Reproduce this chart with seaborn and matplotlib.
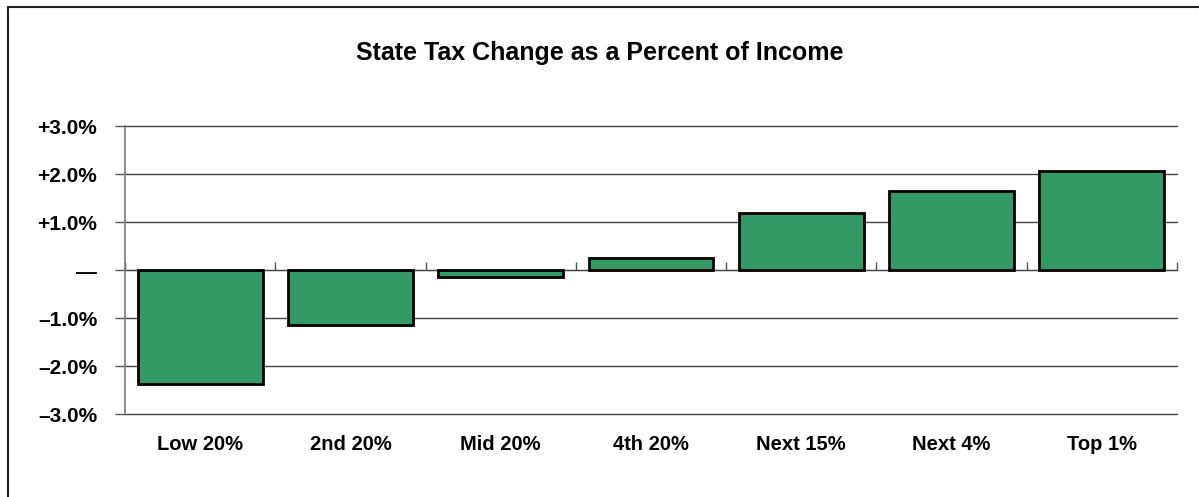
import matplotlib
matplotlib.use("Agg")
import matplotlib.pyplot as plt
import seaborn as sns
import pandas as pd
from matplotlib.lines import Line2D

# data
groups = ['Low 20%', '2nd 20%', 'Mid 20%', '4th 20%', 'Next 15%', 'Next 4%', 'Top 1%']
tax_change = [-2.37, -1.15, -0.15, 0.25, 1.19, 1.65, 2.07]
y_ticks = [-3, -2, -1, 0, 1, 2, 3]
y_labels = ['\u20133.0%', '\u20132.0%', '\u20131.0%', '\u2014', '+1.0%', '+2.0%', '+3.0%']

df = pd.DataFrame({'group': groups, 'change': tax_change})

sns.set_style('white')
plt.rcParams['font.family'] = ['Liberation Sans', 'DejaVu Sans']
plt.rcParams['font.weight'] = 'bold'
plt.rcParams['text.color'] = 'black'
plt.rcParams['xtick.labelcolor'] = 'black'
plt.rcParams['ytick.labelcolor'] = 'black'

fig = plt.figure(figsize=(11.99, 4.97), dpi=100)
ax = fig.add_axes([125 / 1199, 1 - 414 / 497, (1177 - 125) / 1199, (414 - 126) / 497])

sns.barplot(data=df, x='group', y='change', color='#339966', width=0.83,
            edgecolor='black', linewidth=2, saturation=1, ax=ax, zorder=3)

ax.set_ylim(-3, 3)
ax.set_xlim(-0.5, len(groups) - 0.5)
ax.set_yticks(y_ticks)
ax.set_yticklabels(y_labels, fontsize=15, fontweight='bold')
ax.yaxis.grid(True, color='#444444', linewidth=1)
for gl in ax.get_ygridlines():
    gl.set_clip_on(False)
ax.set_axisbelow(True)
ax.tick_params(axis='y', length=7, width=1, color='#555555', direction='out', pad=13, left=True)
ax.tick_params(axis='x', length=0, pad=15, labelsize=14.5)
for lbl in ax.get_xticklabels():
    lbl.set_fontweight('bold')
ax.set_xlabel('')
ax.set_ylabel('')

for s in ['top', 'right', 'bottom']:
    ax.spines[s].set_visible(False)
ax.spines['left'].set_color('#777777')
ax.spines['left'].set_linewidth(1.2)

# zero axis with category divider ticks
sec = ax.secondary_xaxis(0.5)
sec.set_xticks([i - 0.5 for i in range(len(groups) + 1)])
sec.set_xticklabels([])
sec.tick_params(length=6, width=1, color='#555555', direction='out')
sec.spines['bottom'].set_color('#555555')
sec.spines['bottom'].set_linewidth(1.2)

fig.suptitle('State Tax Change as a Percent of Income', x=0.5, y=1 - 53 / 497,
             va='center', fontsize=18, fontweight='bold', color='black')

# outer frame (top and left edges visible)
fig.add_artist(Line2D([8 / 1199, 8 / 1199], [0, 1 - 7 / 497], transform=fig.transFigure,
                      color='#222222', linewidth=1.5))
fig.add_artist(Line2D([8 / 1199, 1], [1 - 7 / 497, 1 - 7 / 497], transform=fig.transFigure,
                      color='#222222', linewidth=1.5))

fig.savefig('out.png', dpi=100)
